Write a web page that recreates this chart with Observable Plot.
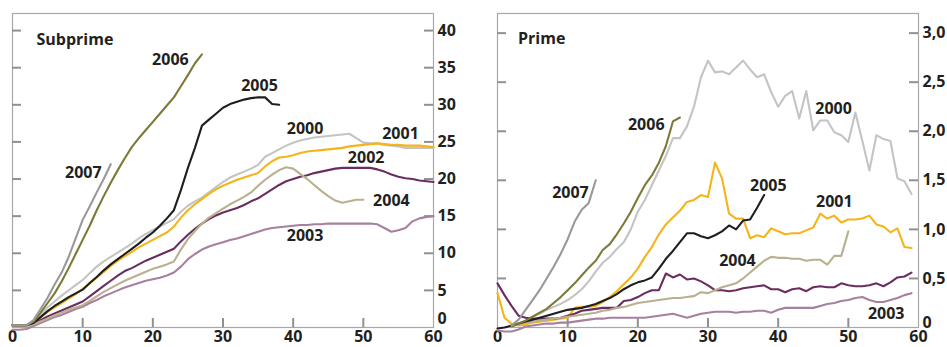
<!DOCTYPE html>
<html><head><meta charset="utf-8">
<script src="https://cdn.jsdelivr.net/npm/d3@7"></script>
<script src="https://cdn.jsdelivr.net/npm/@observablehq/plot@0.6"></script>
<style>
body{margin:0;background:#fff;}
#wrap{display:flex;width:947px;height:347px;overflow:hidden;}
svg{display:block;overflow:visible}
</style></head><body><div id="wrap"></div>
<script>
const years = ["2000","2001","2002","2003","2004","2005","2006","2007"];
const colors = ["#c4c4c4","#f4b41a","#6b2d5f","#a6809e","#b8b08e","#1e1e1e","#7d7a38","#999999"];
const xTicks = [0,10,20,30,40,50,60];
const subTicks = [0,5,10,15,20,25,30,35,40];
const primeTicks = [0,0.5,1.0,1.5,2.0,2.5,3.0];

// Subprime series, index = month
const sub2000 = [0.3,0.3,0.3,0.8,1.8,2.7,3.5,4.3,5.0,5.7,6.4,7.3,8.2,8.9,9.5,10.1,10.7,11.3,12.0,12.6,13.1,13.6,14.1,14.6,15.6,16.4,17.0,17.5,18.2,18.9,19.6,20.2,20.6,21.0,21.4,21.9,23.0,23.5,24.0,24.5,24.9,25.2,25.4,25.6,25.7,25.8,25.9,26.0,26.1,25.5,24.9,24.8,24.8,24.6,24.5,24.4,24.2,24.2,24.2,24.2,24.2];
const sub2001 = [0.3,0.3,0.3,0.6,1.4,2.1,2.7,3.3,3.9,4.5,5.2,5.9,6.7,7.5,8.3,9.0,9.6,10.2,10.8,11.3,11.8,12.3,12.8,13.6,14.8,15.8,16.6,17.3,18.0,18.6,19.1,19.5,19.9,20.2,20.5,20.8,21.7,22.4,22.9,23.0,23.2,23.5,23.7,23.8,23.9,24.0,24.1,24.2,24.4,24.5,24.6,24.7,24.8,24.7,24.6,24.6,24.5,24.5,24.5,24.4,24.3];
const sub2002 = [0.3,0.3,0.3,0.5,1.0,1.5,1.9,2.3,2.7,3.1,3.5,4.2,4.9,5.6,6.3,7.0,7.6,8.0,8.5,9.0,9.4,9.8,10.2,10.6,11.6,12.5,13.3,14.0,14.6,15.1,15.5,15.8,16.1,16.5,17.0,17.4,18.0,18.6,19.2,19.7,20.0,20.3,20.5,20.8,21.0,21.2,21.4,21.5,21.5,21.5,21.5,21.5,21.3,21.0,20.6,20.3,20.1,20.0,19.8,19.7,19.6];
const sub2003 = [-0.3,-0.3,-0.2,0.2,0.6,1.0,1.4,1.7,2.1,2.5,2.8,3.3,3.7,4.2,4.6,5.0,5.4,5.7,6.0,6.3,6.5,6.7,7.0,7.4,8.2,9.2,9.9,10.5,10.9,11.2,11.5,11.8,12.0,12.3,12.6,12.9,13.2,13.4,13.5,13.6,13.7,13.8,13.8,13.9,13.9,14.0,14.0,14.0,14.0,14.0,14.0,14.0,13.9,13.4,12.9,13.1,13.4,14.3,14.7,14.9,15.0];
const sub2004 = [0.2,0.2,0.2,0.4,0.8,1.2,1.6,2.0,2.4,2.7,3.0,3.6,4.2,4.8,5.3,5.8,6.3,6.7,7.1,7.5,7.9,8.2,8.5,8.9,10.5,11.9,13.0,14.0,14.8,15.4,16.0,16.6,17.1,17.6,18.2,19.1,19.9,20.6,21.2,21.6,21.4,20.7,20.0,19.2,18.4,17.7,17.1,16.8,17.0,17.2,17.2];
const sub2005 = [0.3,0.3,0.3,0.6,1.4,2.2,2.9,3.5,4.1,4.6,5.1,6.0,6.8,7.7,8.5,9.2,9.9,10.6,11.3,12.1,12.8,13.7,14.7,15.8,18.5,21.5,24.2,27.2,28.0,28.8,29.6,30.1,30.4,30.7,30.9,31.0,31.0,30.1,30.0];
const sub2006 = [0.3,0.3,0.3,0.8,2.0,3.3,4.6,6.2,8.0,9.9,11.8,13.7,15.8,17.7,19.5,21.2,22.8,24.3,25.5,26.6,27.7,28.8,29.9,31.0,32.5,34.0,35.6,36.8];
const sub2007 = [0.3,0.3,0.3,1.0,2.5,4.0,5.8,7.4,9.5,12.0,14.5,16.3,18.2,20.0,22.0];

// Prime series, index = month (null = not yet started)
const pr2000 = [null,null,0.01,0.03,0.07,0.11,0.14,0.18,0.21,0.24,0.28,0.33,0.39,0.47,0.57,0.66,0.72,0.80,0.87,1.00,1.18,1.30,1.45,1.60,1.75,1.93,1.93,2.05,2.25,2.55,2.72,2.60,2.61,2.58,2.65,2.72,2.63,2.55,2.58,2.40,2.25,2.36,2.41,2.13,2.41,2.01,2.11,2.11,1.99,1.96,1.89,2.19,1.90,1.60,1.96,1.92,1.90,1.52,1.49,1.36];
const pr2001 = [0.35,0.10,0.04,0.02,0.03,0.05,0.06,0.07,0.08,0.09,0.10,0.20,0.21,0.21,0.22,0.26,0.31,0.37,0.44,0.51,0.60,0.72,0.82,0.95,1.05,1.12,1.19,1.28,1.30,1.35,1.33,1.68,1.52,1.16,1.11,1.11,0.91,0.94,0.92,1.01,0.98,0.95,0.96,0.96,0.99,1.02,1.16,1.11,1.14,1.07,1.10,1.10,1.11,1.14,1.05,1.03,0.97,1.01,0.82,0.81];
const pr2002 = [0.45,0.33,0.22,0.12,0.10,0.09,0.09,0.09,0.09,0.10,0.12,0.14,0.17,0.18,0.19,0.20,0.20,0.20,0.27,0.28,0.31,0.35,0.38,0.38,0.55,0.51,0.54,0.49,0.50,0.47,0.43,0.38,0.38,0.37,0.38,0.40,0.41,0.42,0.43,0.39,0.39,0.36,0.39,0.40,0.37,0.41,0.42,0.41,0.41,0.45,0.43,0.42,0.42,0.43,0.45,0.42,0.46,0.51,0.52,0.56];
const pr2003 = [-0.03,-0.04,-0.04,-0.02,0.01,0.02,0.03,0.04,0.04,0.05,0.05,0.06,0.07,0.08,0.09,0.09,0.10,0.10,0.10,0.10,0.10,0.10,0.11,0.12,0.13,0.14,0.12,0.10,0.12,0.14,0.15,0.16,0.16,0.16,0.15,0.16,0.16,0.17,0.17,0.15,0.18,0.20,0.20,0.20,0.20,0.20,0.22,0.24,0.25,0.27,0.28,0.30,0.31,0.28,0.26,0.26,0.28,0.30,0.33,0.35];
const pr2004 = [null,null,0.02,0.03,0.05,0.06,0.07,0.08,0.09,0.10,0.11,0.12,0.13,0.14,0.15,0.17,0.18,0.20,0.21,0.23,0.25,0.26,0.27,0.28,0.29,0.30,0.30,0.31,0.32,0.36,0.35,0.38,0.41,0.43,0.45,0.50,0.56,0.62,0.68,0.72,0.71,0.71,0.70,0.70,0.68,0.69,0.69,0.64,0.73,0.73,0.98];
const pr2005 = [-0.01,0.00,0.02,0.04,0.06,0.08,0.10,0.12,0.14,0.16,0.18,0.19,0.20,0.22,0.24,0.27,0.30,0.34,0.39,0.43,0.46,0.48,0.51,0.60,0.70,0.78,0.87,0.96,0.96,0.93,0.91,0.94,0.98,1.04,1.00,1.09,1.10,1.22,1.35];
const pr2006 = [null,null,0.01,0.04,0.07,0.11,0.15,0.19,0.25,0.31,0.38,0.45,0.53,0.61,0.68,0.79,0.85,0.95,1.06,1.18,1.32,1.45,1.55,1.68,1.85,2.10,2.14];
const pr2007 = [null,null,0.02,0.08,0.18,0.28,0.38,0.50,0.62,0.75,0.90,1.08,1.20,1.27,1.50];

const subSeries = [sub2000,sub2001,sub2002,sub2003,sub2004,sub2005,sub2006,sub2007];
const primeSeries = [pr2000,pr2001,pr2002,pr2003,pr2004,pr2005,pr2006,pr2007];

function toRows(series){
  const rows=[];
  series.forEach((arr,k)=>arr.forEach((v,i)=>{ if(v!=null) rows.push({x:i,y:v,s:years[k]}); }));
  return rows;
}

const subLabels = [
  {t:"Subprime",x:8.9,y:38.7},{t:"2006",x:22.5,y:36.0},{t:"2007",x:10.1,y:20.8},
  {t:"2005",x:35.2,y:32.6},{t:"2000",x:41.7,y:26.8},{t:"2001",x:55.3,y:26.1},
  {t:"2002",x:50.4,y:22.8},{t:"2004",x:54.0,y:17.0},{t:"2003",x:41.7,y:12.3}
];
const primeLabels = [
  {t:"Prime",x:6.3,y:2.94},{t:"2006",x:21.2,y:2.07},{t:"2007",x:10.4,y:1.37},
  {t:"2005",x:38.6,y:1.44},{t:"2000",x:47.9,y:2.23},{t:"2001",x:48.0,y:1.28},
  {t:"2004",x:34.2,y:0.68},{t:"2003",x:55.4,y:0.14}
];

const TXT = "#231f20", TICK = "#909090";
function panel({width, ml, mr, ydom, yticks, fmt, rows, labels, zeroDy}){
  const mt = 13, mb = 20, h = 347;
  const pw = width - ml - mr, ph = h - mt - mb;
  const tx = 60 * 9 / pw, ty = (ydom[1]-ydom[0]) * 9 / ph;
  const inner = yticks.filter(d => d !== 0);
  const common = {fontSize:16, fontWeight:"bold", fill:TXT, tickSize:0, label:null};
  return Plot.plot({
    width, height:h, marginLeft:ml, marginRight:mr, marginTop:mt, marginBottom:mb,
    style:{fontFamily:"'Open Sans', 'DejaVu Sans', sans-serif", background:"white", overflow:"visible"},
    x:{domain:[0,60], label:null},
    y:{domain:ydom, label:null},
    color:{domain:years, range:colors},
    marks:[
      Plot.frame({stroke:"#a8a8a8", strokeWidth:1.2}),
      Plot.ruleY(inner, {y:d=>d, x1:0, x2:tx, stroke:TICK, strokeWidth:2}),
      Plot.ruleY(inner, {y:d=>d, x1:60-tx, x2:60, stroke:TICK, strokeWidth:2}),
      Plot.ruleX([10,20,30,40,50], {x:d=>d, y1:ydom[0], y2:ydom[0]+ty, stroke:TICK, strokeWidth:2}),
      Plot.axisY(inner, {...common, anchor:"right", tickPadding:4, tickFormat:fmt}),
      Plot.axisY([0], {...common, anchor:"right", tickPadding:4, tickFormat:()=>"0", dy:zeroDy}),
      Plot.axisX(xTicks, {...common, anchor:"bottom", tickPadding:3}),
      Plot.line(rows, {x:"x", y:"y", z:"s", stroke:"s", strokeWidth:2.1, strokeLinejoin:"round"}),
      Plot.text(labels, {x:"x", y:"y", text:"t", fontSize:16, fontWeight:"bold", fill:TXT})
    ]
  });
}

const wrap = document.getElementById("wrap");
wrap.append(panel({width:470, ml:12, mr:37, ydom:[0,42.3], yticks:subTicks, fmt:d=>String(d),
  rows:toRows(subSeries), labels:subLabels, zeroDy:-9}));
wrap.append(panel({width:477, ml:27, mr:29, ydom:[0,3.2], yticks:primeTicks, fmt:d=>d.toFixed(1).replace(".",","),
  rows:toRows(primeSeries), labels:primeLabels, zeroDy:-5}));
</script></body></html>
